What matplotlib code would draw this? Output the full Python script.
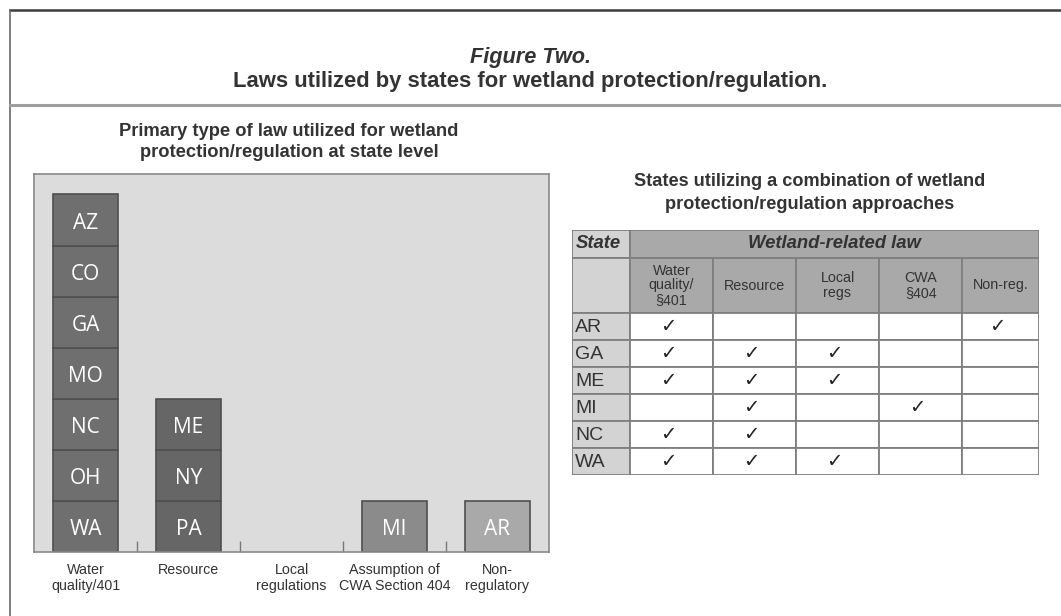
import matplotlib
matplotlib.use("Agg")
import matplotlib.pyplot as plt
from matplotlib.patches import Rectangle
from matplotlib.lines import Line2D

# data
categories = ["Water\nquality/401", "Resource", "Local\nregulations",
              "Assumption of\nCWA Section 404", "Non-\nregulatory"]
states_by_category = [["WA", "OH", "NC", "MO", "GA", "CO", "AZ"],
                      ["PA", "NY", "ME"],
                      [],
                      ["MI"],
                      ["AR"]]
bar_colors = ["#6f6f6f", "#666666", "#6f6f6f", "#8b8b8b", "#a9a9a9"]

table_states = ["AR", "GA", "ME", "MI", "NC", "WA"]
law_columns = ["Water\nquality/\n§401", "Resource", "Local\nregs", "CWA\n§404", "Non-reg."]
checks = [[1, 0, 0, 0, 1],
          [1, 1, 1, 0, 0],
          [1, 1, 1, 0, 0],
          [0, 1, 0, 1, 0],
          [1, 1, 0, 0, 0],
          [1, 1, 1, 0, 0]]

W, H = 1061, 616
fig = plt.figure(figsize=(W / 100, H / 100), dpi=100)
plt.rcParams['font.family'] = ['Liberation Sans', 'DejaVu Sans']
txt = "#333333"


def fx(px):
    return px / W


def fy(py):
    return 1 - py / H


# frame lines
fig.add_artist(Line2D([fx(10), 1], [fy(10), fy(10)], color="#3c3c3c", lw=1.8))
fig.add_artist(Line2D([fx(10), fx(10)], [fy(10), 0], color="#6a6a6a", lw=1.2))
fig.add_artist(Line2D([fx(10), 1], [fy(105), fy(105)], color="#9e9e9e", lw=2.2))

fig.text(0.5, fy(57), "Figure Two.", ha="center", va="center",
         fontsize=15.7, style="italic", weight="bold", color=txt)
fig.text(0.5, fy(82), "Laws utilized by states for wetland protection/regulation.",
         ha="center", va="center", fontsize=15.8, weight="bold", color=txt)

"""Left: stacked boxes of states"""
fig.text(fx(289), fy(142), "Primary type of law utilized for wetland\nprotection/regulation at state level",
         ha="center", va="center", fontsize=13.2, weight="bold", color=txt, linespacing=1.32)

ax = fig.add_axes([fx(34), fy(552), fx(549) - fx(34), (552 - 174) / H])
ax.set_facecolor("#dcdcdc")
for i, states in enumerate(states_by_category):
    for j, st in enumerate(states):
        ax.bar(i, 1, bottom=j, width=0.63, color=bar_colors[i],
               edgecolor="#4f4f4f", linewidth=1.2, zorder=2)
        ax.text(i, j + 0.44, st, ha="center", va="center", color="white",
                fontsize=15, family="Open Sans", zorder=3)
ax.set_xlim(-0.5, 4.5)
ax.set_ylim(0, 7.4)
ax.set_yticks([])
ax.set_xticks(range(len(categories)))
ax.set_xticklabels(categories, fontsize=10.3, color=txt, linespacing=1.2)
ax.tick_params(axis="x", which="major", length=0, pad=8)
ax.set_xticks([0.5, 1.5, 2.5, 3.5], minor=True)
ax.tick_params(axis="x", which="minor", direction="in", length=8, width=1, color="#777777")
for s in ax.spines.values():
    s.set_color("#8a8a8a")
    s.set_linewidth(1.2)

"""Right: table of combined approaches"""
fig.text(fx(810), fy(193), "States utilizing a combination of wetland\nprotection/regulation approaches",
         ha="center", va="center", fontsize=13.1, weight="bold", color=txt, linespacing=1.45)

col_w = [58, 83, 83, 83, 83, 77]
row_h = [28, 55] + [27] * len(table_states)
tw, th = sum(col_w), sum(row_h)
tx = fig.add_axes([fx(572), fy(230 + th), tw / W, th / H])
tx.set_xlim(0, tw)
tx.set_ylim(th, 0)
tx.axis("off")
xe = [sum(col_w[:k]) for k in range(len(col_w) + 1)]
ye = [sum(row_h[:k]) for k in range(len(row_h) + 1)]
grid = "#7f7f7f"


def cell(x0, y0, x1, y1, fc):
    tx.add_patch(Rectangle((x0, y0), x1 - x0, y1 - y0, facecolor=fc,
                           edgecolor=grid, linewidth=1.3))


cell(xe[0], ye[0], xe[1], ye[1], "#d3d3d3")
cell(xe[1], ye[0], xe[-1], ye[1], "#a9a9a9")
tx.text(xe[0] + 4, (ye[0] + ye[1]) / 2, "State", ha="left", va="center",
        fontsize=13.3, weight="bold", style="italic", color=txt)
tx.text((xe[1] + xe[-1]) / 2, (ye[0] + ye[1]) / 2, "Wetland-related law", ha="center",
        va="center", fontsize=13.3, weight="bold", style="italic", color=txt)
cell(xe[0], ye[1], xe[1], ye[2], "#d3d3d3")
for c, name in enumerate(law_columns):
    cell(xe[c + 1], ye[1], xe[c + 2], ye[2], "#a9a9a9")
    tx.text((xe[c + 1] + xe[c + 2]) / 2, (ye[1] + ye[2]) / 2, name, ha="center",
            va="center", fontsize=10.3, color=txt, linespacing=1.05)
for r, st in enumerate(table_states):
    y0, y1 = ye[r + 2], ye[r + 3]
    cell(xe[0], y0, xe[1], y1, "#d3d3d3")
    tx.text(xe[0] + 3, (y0 + y1) / 2 + 1, st, ha="left", va="center",
            fontsize=14, color=txt)
    for c in range(len(law_columns)):
        cell(xe[c + 1], y0, xe[c + 2], y1, "white")
        if checks[r][c]:
            tx.text((xe[c + 1] + xe[c + 2]) / 2 - 3, (y0 + y1) / 2, "\u2713",
                    ha="center", va="center", fontsize=14, color="#222222",
                    family="DejaVu Sans")

plt.savefig("out.png", dpi=100)
plt.close(fig)
